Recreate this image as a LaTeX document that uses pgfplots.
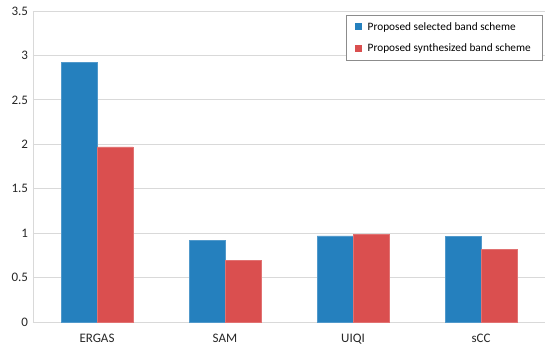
\documentclass[border=0pt]{standalone}
\usepackage{pgfplots}
\pgfplotsset{compat=1.18}
\usepackage{fontspec}
\setmainfont{Carlito}
\definecolor{cblue}{HTML}{2580BE}
\definecolor{cred}{HTML}{DA4F4F}
\definecolor{gridc}{HTML}{D9D9D9}
\begin{document}
\begin{tikzpicture}
\begin{axis}[
  scale only axis,
  width=512pt, height=311pt,
  xmin=-0.5, xmax=3.5,
  ymin=0, ymax=3.5,
  ytick={0,0.5,...,3.5},
  xtick={0,1,2,3},
  xticklabels={ERGAS,SAM,UIQI,sCC},
  ybar=0pt, bar width=36pt,
  axis x line*=bottom,
  axis y line*=left,
  axis line style={gridc, line width=0.8pt},
  ymajorgrids, grid style={gridc, line width=0.8pt},
  major tick length=0pt,
  tick label style={font=\fontsize{13}{15}\selectfont, text=black!85},
  yticklabel style={/pgf/number format/assume math mode=true, xshift=-1.5pt},
  xticklabel style={yshift=-9pt},
  legend style={at={(0.994,0.987)}, anchor=north east, draw=black!45, font=\fontsize{11.3}{13}\selectfont, row sep=8pt, inner xsep=9pt, inner ysep=5pt, cells={anchor=west}},
  legend image code/.code={\fill[#1, draw=none] (0pt,-3.5pt) rectangle (7pt,3.5pt); \path[draw=none, fill=none] (0pt,0pt) -- (11pt,0pt);},
]
\addplot[fill=cblue, draw=cblue!80!white] coordinates {(0,2.92) (1,0.92) (2,0.97) (3,0.96)};
\addplot[fill=cred, draw=cred!80!white] coordinates {(0,1.97) (1,0.69) (2,0.99) (3,0.82)};
\legend{Proposed selected band scheme, Proposed synthesized band scheme}
\end{axis}
\pgfresetboundingbox
\path ([xshift=-33pt,yshift=-28pt]current axis.south west) rectangle ([xshift=5pt,yshift=11pt]current axis.north east);
\end{tikzpicture}
\end{document}
